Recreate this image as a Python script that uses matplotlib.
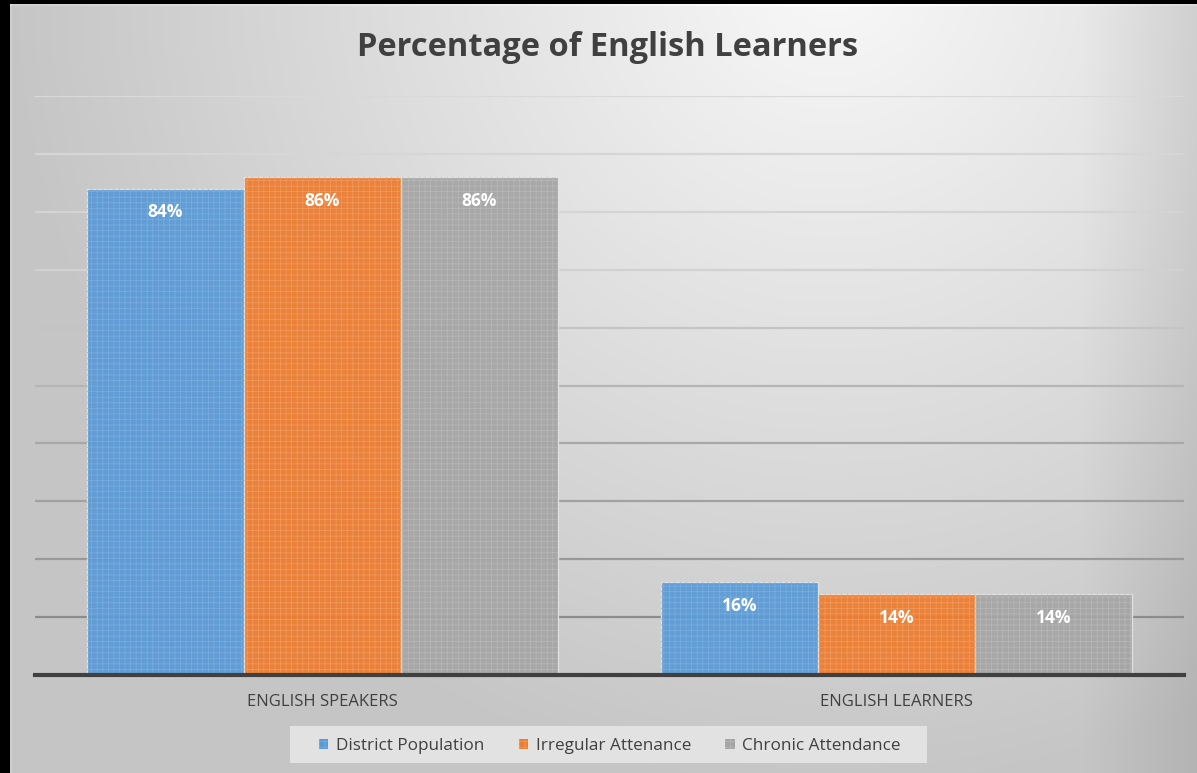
import numpy as np
import matplotlib
matplotlib.use("Agg")
import matplotlib.pyplot as plt
from matplotlib.patches import Patch, Rectangle

categories = ["ENGLISH SPEAKERS", "ENGLISH LEARNERS"]
series_names = ["District Population", "Irregular Attenance", "Chronic Attendance"]
district = [0.84, 0.16]
irregular = [0.86, 0.14]
chronic = [0.86, 0.14]
series_values = [district, irregular, chronic]
labels = [["84%", "16%"], ["86%", "14%"], ["86%", "14%"]]
title = "Percentage of English Learners"

colors = ["#5B9BD5", "#ED7D31", "#A5A5A5"]
hatch_colors = ["#79aee0", "#f39a5f", "#b8b8b8"]
grid_gray = [0.55, 0.60, 0.63, 0.66, 0.71, 0.77, 0.82, 0.83, 0.84, 0.85]

FONT = "Open Sans"
plt.rcParams["font.family"] = [FONT, "DejaVu Sans"]
plt.rcParams["hatch.linewidth"] = 0.5

W, H = 1197, 773
fig = plt.figure(figsize=(W / 100, H / 100), dpi=100)

# background gradient
bg_ax = fig.add_axes([0, 0, 1, 1], zorder=-10)
yy, xx = np.mgrid[0:H, 0:W]
d = np.sqrt(((xx - 830) / 820.0) ** 2 + ((yy + 30) / 820.0) ** 2)
b = 0.975 - 0.20 * np.clip(d, 0, 1)
b -= 0.07 * np.clip((xx - 1080) / 117.0, 0, 1)
img = np.dstack([b, b, b])
img[:, 10:12, :] = np.minimum(img[:, 10:12, :] + 0.04, 1)
img[4:6, 10:, :] = np.minimum(img[4:6, 10:, :] + 0.04, 1)
img[:, :10, :] = 0.0
img[:4, :, :] = 0.0
bg_ax.imshow(img, aspect="auto", extent=[0, W, H, 0], interpolation="bilinear")
bg_ax.set_xlim(0, W)
bg_ax.set_ylim(H, 0)
bg_ax.axis("off")

ax = fig.add_axes([35 / W, 1 - 675 / H, (1184 - 35) / W, (675 - 96) / H])
ax.patch.set_alpha(0)

x = np.arange(len(categories))
bw = 0.2735
offsets = [-bw, 0, bw]

ticks = np.arange(0.1, 1.01, 0.1)
for t, c in zip(ticks, grid_gray):
    ax.axhline(t, color=(c, c, c), lw=1.6, zorder=0)

for k, vals in enumerate(series_values):
    pos = x + offsets[k]
    ax.bar(pos, vals, width=bw, color=colors[k], edgecolor="#e4e4e4",
           linewidth=0.9, zorder=2, alpha=0.94)
    ax.bar(pos, vals, width=bw, fill=False, hatch="+++", edgecolor=hatch_colors[k],
           linewidth=0, zorder=3)
    for p, v, lab in zip(pos, vals, labels[k]):
        ax.annotate(lab, (p, v), xytext=(0, -17), textcoords="offset points",
                    ha="center", va="center", color="white", fontsize=12.5,
                    fontweight="bold", zorder=4)

ax.set_xlim(-0.5, 1.5)
ax.set_ylim(0, 1.0)
ax.set_yticks([])
ax.set_xticks(x)
ax.set_xticklabels(categories, fontsize=12, color="#404040")
ax.tick_params(axis="x", length=0, pad=14)
for s in ["top", "right", "left"]:
    ax.spines[s].set_visible(False)
ax.spines["bottom"].set_color("#404040")
ax.spines["bottom"].set_linewidth(3)
ax.spines["bottom"].set_zorder(5)

fig.text(608 / W, 1 - 47 / H, title, ha="center", va="center", fontsize=23.5,
         fontweight="bold", color="#404040")

# legend box
fig.patches.append(Rectangle((290 / W, 1 - 763 / H), (927 - 290) / W, 37 / H,
                             transform=fig.transFigure, facecolor="#e2e2e2",
                             edgecolor="none", zorder=1))
handles = [Patch(facecolor=colors[k], edgecolor=hatch_colors[k], linewidth=0, hatch="+++")
           for k in range(3)]
leg = fig.legend(handles, series_names, loc="center", bbox_to_anchor=(610 / W, 1 - 746 / H),
                 ncol=3, frameon=False, fontsize=12.3, handlelength=0.55, handleheight=0.55,
                 handletextpad=0.45, columnspacing=2.0, labelcolor="#404040")
leg.set_zorder(2)

fig.savefig("out.png", dpi=100)
